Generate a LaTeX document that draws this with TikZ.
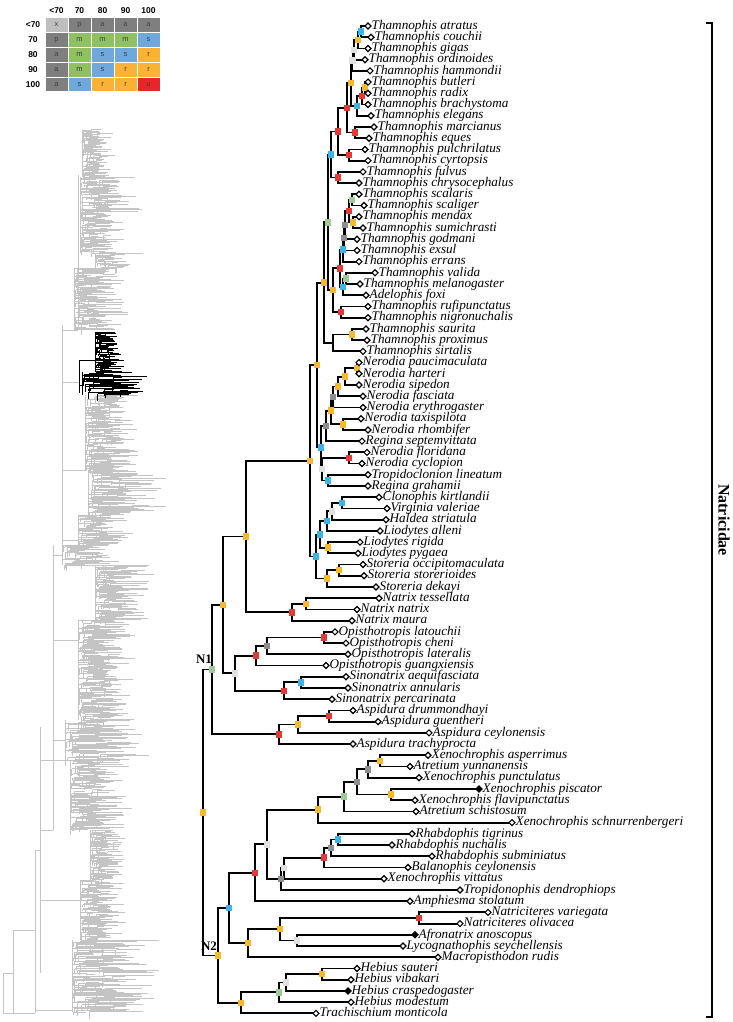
\documentclass[tikz,border=0pt]{standalone}
\usepackage{fontspec}
\setmainfont{Liberation Serif}
\setsansfont{Liberation Sans}
\usetikzlibrary{shapes.geometric,calc}
\definecolor{cy}{HTML}{F5B82E}
\definecolor{cr}{HTML}{E53935}
\definecolor{cb}{HTML}{3DB4E8}
\definecolor{cg}{HTML}{9CCB94}
\definecolor{cl}{HTML}{E0E0E0}
\definecolor{cd}{HTML}{8E8E8E}
\definecolor{tdg}{HTML}{7F7F7F}
\definecolor{tlg}{HTML}{BFBFBF}
\definecolor{tgr}{HTML}{8FC163}
\definecolor{tbl}{HTML}{6FA8DC}
\definecolor{tye}{HTML}{F9B233}
\definecolor{tre}{HTML}{E8262A}
\definecolor{gtree}{HTML}{C4C4C4}
\tikzset{
  br/.style={line width=1.8pt,line cap=rect},
  mk/.style={rectangle,minimum size=6.5pt,inner sep=0pt},
  tip/.style={diamond,draw=black,fill=white,line width=1.2pt,minimum size=6.5pt,inner sep=0pt},
  tipf/.style={tip,fill=black},
  lab/.style={anchor=base west,inner sep=0pt,font=\fontsize{13.2}{13.5}\selectfont\itshape},
  gt/.style={gtree,line width=1pt},
  bt/.style={black,line width=1pt},
  hdr/.style={font=\sffamily\bfseries\fontsize{8.5}{9}\selectfont},
  cel/.style={font=\sffamily\fontsize{7.5}{8}\selectfont,text=black!75},
  nlab/.style={font=\bfseries\fontsize{13}{13}\selectfont}
}
\newcommand\inode[4]{\path let \p1=($(#3)!.5!(#4)$) in coordinate (#1) at (#2pt,\y1);
  \draw[br] (#1) |- (#3) (#1) |- (#4);}
\newcommand\clade[5]{%
  \pgfmathtruncatemacro\nn{(#2-#1)/0.8}%
  \foreach \k in {0,...,\nn}{%
    \pgfmathsetmacro\yy{#1+\k*0.8}%
    \pgfmathsetmacro\xs{#3+rnd*rnd*0.55*(#4-#3)}%
    \pgfmathsetmacro\xe{\xs+(0.2+0.8*rnd)*(#4-\xs)*(0.5+0.5*rnd)}%
    \pgfmathsetmacro\dv{rnd*8}%
    \draw[#5] (\xs,\yy) -- (\xe,\yy) (\xs,\yy) -- (\xs,\yy+\dv);
  }%
  \draw[#5] (#3,#1) -- (#3,#2);}
\def\tiplist{0/368/Thamnophis atratus,1/371/Thamnophis couchii,2/368/Thamnophis gigas,3/365/Thamnophis ordinoides,4/370/Thamnophis hammondii,5/368/Thamnophis butleri,6/368/Thamnophis radix,7/368/Thamnophis brachystoma,8/371/Thamnophis elegans,9/374/Thamnophis marcianus,10/369/Thamnophis eques,11/365/Thamnophis pulchrilatus,12/368/Thamnophis cyrtopsis,13/363/Thamnophis fulvus,14/359/Thamnophis chrysocephalus,15/359/Thamnophis scalaris,16/364/Thamnophis scaliger,17/359/Thamnophis mendax,18/363/Thamnophis sumichrasti,19/357/Thamnophis godmani,20/357/Thamnophis exsul,21/359/Thamnophis errans,22/375/Thamnophis valida,23/360/Thamnophis melanogaster,24/366/Adelophis foxi,25/368/Thamnophis rufipunctatus,26/368/Thamnophis nigronuchalis,27/366/Thamnophis saurita,28/367/Thamnophis proximus,29/363/Thamnophis sirtalis,30/359/Nerodia paucimaculata,31/359/Nerodia harteri,32/359/Nerodia sipedon,33/363/Nerodia fasciata,34/363/Nerodia erythrogaster,35/361/Nerodia taxispilota,36/368/Nerodia rhombifer,37/362/Regina septemvittata,38/367/Nerodia floridana,39/362/Nerodia cyclopion,40/368/Tropidoclonion lineatum,41/368/Regina grahamii,42/379/Clonophis kirtlandii,43/387/Virginia valeriae,44/386/Haldea striatula,45/380/Liodytes alleni,46/360/Liodytes rigida,47/358/Liodytes pygaea,48/363/Storeria occipitomaculata,49/364/Storeria storerioides,50/376/Storeria dekayi,51/379/Natrix tessellata,52/357/Natrix natrix,53/352/Natrix maura,54/335/Opisthotropis latouchii,55/346/Opisthotropis cheni,56/348/Opisthotropis lateralis,57/326/Opisthotropis guangxiensis,58/346/Sinonatrix aequifasciata,59/348/Sinonatrix annularis,60/332/Sinonatrix percarinata,61/353/Aspidura drummondhayi,62/378/Aspidura guentheri,63/429/Aspidura ceylonensis,64/353/Aspidura trachyprocta,65/428/Xenochrophis asperrimus,66/410/Atretium yunnanensis,67/419/Xenochrophis punctulatus,68/479/Xenochrophis piscator,69/415/Xenochrophis flavipunctatus,70/416/Atretium schistosum,71/512/Xenochrophis schnurrenbergeri,72/412/Rhabdophis tigrinus,73/392/Rhabdophis nuchalis,74/432/Rhabdophis subminiatus,75/408/Balanophis ceylonensis,76/384/Xenochrophis vittatus,77/460/Tropidonophis dendrophiops,78/410/Amphiesma stolatum,79/488/Natriciteres variegata,80/460/Natriciteres olivacea,81/415/Afronatrix anoscopus,82/403/Lycognathophis seychellensis,83/438/Macropisthodon rudis,84/357/Hebius sauteri,85/351/Hebius vibakari,86/348/Hebius craspedogaster,87/351/Hebius modestum,88/316/Trachischium monticola}
\begin{document}
\begin{tikzpicture}[x=1pt,y=-1pt]
\useasboundingbox (0,0) rectangle (733,1022);
% ---------- legend table ----------
\foreach \c/\t in {1/<70,2/70,3/80,4/90,5/100}{
  \node[hdr] (h\c) at ({45+23*(\c-1)+11.5},10.5) {\t};
  \node[hdr] (r\c) at (33,{17.5+14.9*(\c-1)+7.45}) {\t};
}
\foreach \r/\c/\t/\col in {1/1/x/tlg,1/2/p/tdg,1/3/a/tdg,1/4/a/tdg,1/5/a/tdg,
  2/1/p/tdg,2/2/m/tgr,2/3/m/tgr,2/4/m/tgr,2/5/s/tbl,
  3/1/a/tdg,3/2/m/tgr,3/3/s/tbl,3/4/s/tbl,3/5/r/tye,
  4/1/a/tdg,4/2/m/tgr,4/3/s/tbl,4/4/r/tye,4/5/r/tye,
  5/1/a/tdg,5/2/s/tbl,5/3/r/tye,5/4/r/tye,5/5/u/tre}{
  \fill[\col] ({45+23*(\c-1)+0.5},{17.5+14.9*(\r-1)+0.5}) rectangle ++(22,13.9);
  \node[cel] (c\r\c) at ({45+23*(\c-1)+11.5},{17.5+14.9*(\r-1)+7.45}) {\t};
}
% ---------- overview tree (grey) ----------
\pgfmathsetseed{12345}
\clade{130}{177}{82}{118}{gt}
\clade{177}{213}{80}{145}{gt}
\clade{213}{253}{80}{128}{gt}
\clade{253}{268}{95}{150}{gt}
\clade{268}{330}{74}{135}{gt}
\clade{395}{470}{85}{145}{gt}
\clade{470}{515}{88}{175}{gt}
\clade{515}{545}{78}{135}{gt}
\clade{545}{565}{62}{135}{gt}
\clade{565}{620}{95}{160}{gt}
\clade{620}{720}{78}{140}{gt}
\clade{720}{760}{65}{160}{gt}
\clade{760}{830}{70}{135}{gt}
\clade{830}{880}{90}{135}{gt}
\clade{880}{940}{80}{130}{gt}
\clade{940}{1012}{72}{165}{gt}
\draw[gt] (78,175) -- (78,330) (62,325) -- (62,555) (53,545) -- (53,830)
  (40,727) -- (40,973) (35,850) -- (35,1013) (13,930) -- (13,1013) (3,973) -- (3,1013);
\draw[gt] (62,330) -- (78,330) (62,382) -- (79,382) (62,470) -- (85,470) (62,540) -- (78,540)
  (53,555) -- (62,555) (53,640) -- (78,640) (53,740) -- (65,740) (40,830) -- (53,830)
  (40,760) -- (70,760) (40,900) -- (80,900) (35,850) -- (40,850) (35,1010) -- (72,1010)
  (13,930) -- (35,930) (3,973) -- (13,973) (3,1013) -- (35,1013);
\clade{332}{372}{95}{125}{bt}
\clade{372}{395}{82}{162}{bt}
\draw[bt] (79,360) -- (79,393) (79,360) -- (95,360) (79,385) -- (82,385);
% ---------- tip coordinates ----------
\foreach \i/\x/\t in \tiplist { \coordinate (p\i) at (\x,{26+11.22*\i}); }
% ---------- internal nodes ----------
\inode{A1}{361}{p0}{p1}
\inode{A2}{358}{A1}{p2}
\inode{A3}{354}{A2}{p3}
\inode{A4}{352.5}{A3}{p4}
\inode{B1}{365}{p5}{p6}
\inode{B2}{362}{B1}{p7}
\inode{B3}{357}{B2}{p8}
\inode{C}{351}{A4}{B3}
\inode{MQ}{355}{p9}{p10}
\inode{D}{347}{C}{MQ}
\inode{PC}{349}{p11}{p12}
\inode{E}{338}{D}{PC}
\inode{FC}{338}{p13}{p14}
\inode{F}{331}{E}{FC}
\inode{SS}{352}{p15}{p16}
\inode{MS}{353}{p17}{p18}
\inode{R1}{349}{SS}{MS}
\inode{G1}{345}{R1}{p19}
\inode{G2}{344}{G1}{p20}
\inode{B4}{343}{G2}{p21}
\inode{VM}{346}{p22}{p23}
\inode{VF}{343}{VM}{p24}
\inode{R2}{340}{B4}{VF}
\inode{RN}{341}{p25}{p26}
\inode{Y333}{333}{R2}{RN}
\inode{G}{328}{F}{Y333}
\inode{SP}{352}{p27}{p28}
\inode{SPS}{333}{SP}{p29}
\inode{Y324}{324}{G}{SPS}
\inode{Nph}{357}{p30}{p31}
\inode{Ns}{345}{Nph}{p32}
\inode{Nf}{338}{Ns}{p33}
\inode{Nd1}{333}{Nf}{p34}
\inode{Ntr}{343}{p35}{p36}
\inode{Ny}{331}{Nd1}{Ntr}
\inode{Nd2}{326}{Ny}{p37}
\inode{Nfc}{349}{p38}{p39}
\inode{Ntg}{328}{p40}{p41}
\inode{Nlg}{322}{Nfc}{Ntg}
\inode{Nb}{321}{Nd2}{Nlg}
\inode{Y317}{317}{Y324}{Nb}
\inode{Ca}{342}{p42}{p43}
\inode{Cb}{332}{Ca}{p44}
\inode{Cc}{327}{Cb}{p45}
\inode{LRP}{328}{p46}{p47}
\inode{Cd}{320}{Cc}{LRP}
\inode{STa}{339}{p48}{p49}
\inode{STb}{327}{STa}{p50}
\inode{Ce}{316}{Cd}{STb}
\inode{Y310}{310}{Y317}{Ce}
\inode{NTa}{306}{p51}{p52}
\inode{NTb}{292}{NTa}{p53}
\inode{Y246}{246}{Y310}{NTb}
\inode{Oa}{324}{p54}{p55}
\inode{Ob}{267}{Oa}{p56}
\inode{Oc}{256}{Ob}{p57}
\inode{Sa}{301}{p58}{p59}
\inode{Sb}{284}{Sa}{p60}
\inode{OS}{235}{Oc}{Sb}
\inode{Y223}{223}{Y246}{OS}
\inode{ASa}{329}{p61}{p62}
\inode{ASb}{298}{ASa}{p63}
\inode{ASc}{279}{ASb}{p64}
\inode{N1}{212}{Y223}{ASc}
\inode{Xa}{380}{p65}{p66}
\inode{Xb}{368}{Xa}{p67}
\inode{Xc}{391}{p68}{p69}
\inode{Xd}{357}{Xb}{Xc}
\inode{Xe}{344}{Xd}{p70}
\inode{Xf}{318}{Xe}{p71}
\inode{Ra}{338}{p72}{p73}
\inode{Rb}{331}{Ra}{p74}
\inode{Rc}{324}{Rb}{p75}
\inode{Rd}{284}{Rc}{p76}
\inode{Re}{281}{Rd}{p77}
\inode{XR}{267}{Xf}{Re}
\inode{AM}{255}{XR}{p78}
\inode{NAa}{419}{p79}{p80}
\inode{NAb}{297}{p81}{p82}
\inode{NAc}{280}{NAa}{NAb}
\inode{NAd}{248}{NAc}{p83}
\inode{BL}{229}{AM}{NAd}
\inode{Ha}{322}{p84}{p85}
\inode{Hb}{286}{Ha}{p86}
\inode{Hc}{279}{Hb}{p87}
\inode{Hd}{241}{Hc}{p88}
\inode{N2}{218}{BL}{Hd}
\inode{ROOT}{203}{N1}{N2}
% ---------- support markers ----------
\foreach \n/\c in {A1/cb,A2/cy,A3/cl,A4/cl,B1/cy,B2/cr,B3/cb,C/cy,MQ/cr,D/cr,PC/cr,E/cr,FC/cr,F/cb,
  SS/cg,MS/cy,R1/cr,G1/cd,G2/cd,B4/cb,VM/cg,VF/cb,R2/cr,RN/cr,Y333/cy,G/cg,SP/cy,Y324/cy,
  Nph/cy,Ns/cy,Nf/cy,Nd1/cd,Ntr/cy,Ny/cy,Nd2/cd,Nfc/cr,Ntg/cb,Nlg/cl,Nb/cb,Y317/cy,
  Ca/cb,Cb/cl,Cc/cb,LRP/cy,Cd/cb,STa/cy,STb/cy,Ce/cb,Y310/cy,NTa/cy,NTb/cr,Y246/cy,
  Oa/cr,Ob/cd,Oc/cr,Sa/cb,Sb/cr,OS/cl,Y223/cy,ASa/cr,ASb/cy,ASc/cr,N1/cg,
  Xa/cy,Xb/cd,Xc/cy,Xd/cd,Xe/cg,Xf/cy,Ra/cb,Rb/cd,Rc/cr,Rd/cl,Re/cd,XR/cl,AM/cr,
  NAa/cr,NAb/cl,NAc/cy,NAd/cy,BL/cb,Ha/cy,Hb/cl,Hc/cg,Hd/cy,N2/cy,ROOT/cy}{
  \node[mk,fill=\c] (m\n) at (\n) {};
}
% ---------- tips and labels ----------
\foreach \i/\x/\t in \tiplist {
  \def\st{tip}
  \ifnum\i=68 \def\st{tipf}\fi
  \ifnum\i=81 \def\st{tipf}\fi
  \ifnum\i=86 \def\st{tipf}\fi
  \node[\st] (d\i) at (p\i) {};
  \node[lab] (l\i) at ($(p\i)+(3.5,3.2)$) {\t};
}
\node[nlab] (n1lab) at (204,659) {N1};
\node[nlab] (n2lab) at (209,946) {N2};
% ---------- bracket ----------
\coordinate (bt) at (712,23);
\coordinate (bb) at (712,1017);
\draw[line width=2.5pt] ($(bt)+(-6,0)$) -- (bt) -- (bb) -- ($(bb)+(-6,0)$);
\node[rotate=-90,font=\bfseries\fontsize{16}{16}\selectfont] (nat) at (724,520) {Natricidae};
\end{tikzpicture}
\end{document}
